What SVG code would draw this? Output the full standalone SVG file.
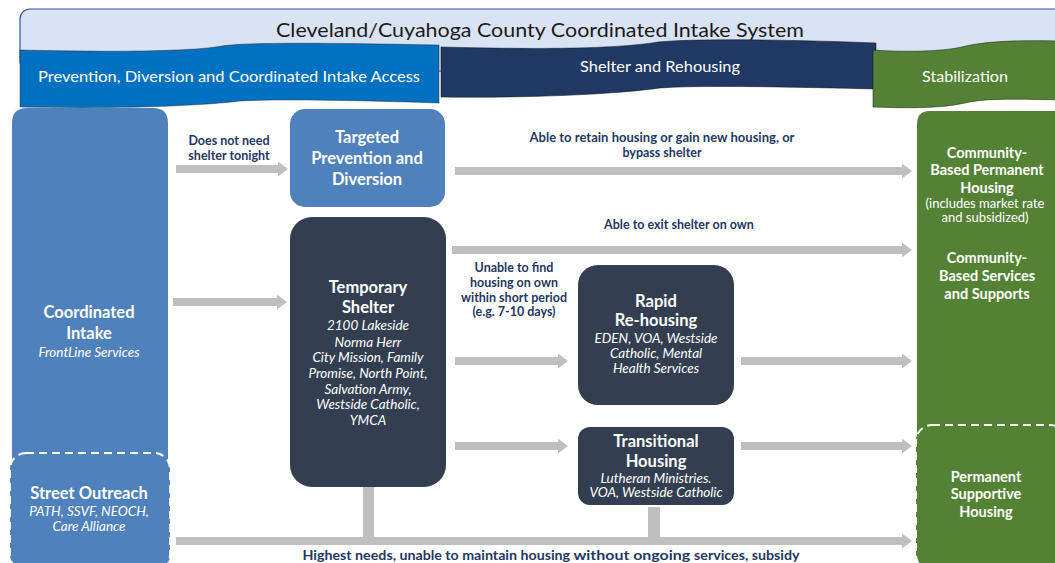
<svg xmlns="http://www.w3.org/2000/svg" width="1055" height="563" viewBox="0 0 1055 563">
<style>
text{font-family:Lato,"Open Sans","Liberation Sans",sans-serif;text-anchor:middle}
.h{font-weight:bold;fill:#fff;font-size:16.5px}
.i{font-style:italic;fill:#fff;font-size:13.5px}
.g{font-weight:bold;fill:#fff;font-size:14.5px}
.s{fill:#fff;font-size:13px}
.lbl{font-weight:bold;fill:#1f3864;font-size:12.5px}
.arr{fill:#bfbfbf}
.band{fill:#fff;font-size:15px}
.dash{stroke:#fff;stroke-width:2;stroke-dasharray:8 5}
</style>
<rect width="1055" height="563" fill="#fff"/>
<g id="banner">
<rect x="20" y="9" width="1050" height="62" rx="10" fill="#dae3f3" stroke="#2f5597" stroke-width="1.2"/>
<text x="540" y="37" font-size="19" fill="#1a1a1a" textLength="528" lengthAdjust="spacingAndGlyphs">Cleveland/Cuyahoga County Coordinated Intake System</text>
</g>
<g id="band-shelter">
<path d="M441,47 C520,49 610,50 658,42 C700,38 800,40 876,43 L876,89 C790,87 700,85 660,88 C610,95 520,98 441,97 Z" fill="#1f3864" stroke="#111" stroke-opacity=".5" stroke-width="1"/>
<text class="band" x="660" y="72" textLength="160" lengthAdjust="spacingAndGlyphs">Shelter and Rehousing</text>
</g>
<g id="band-prevention">
<path d="M20,50 C100,52 190,52 222,46 C250,42 330,43 439,45 L439,103 C350,100 280,99 240,101 C200,106 120,109 20,107 Z" fill="#0070c0" stroke="#111" stroke-opacity=".4" stroke-width="1"/>
<text class="band" x="229" y="82" textLength="382" lengthAdjust="spacingAndGlyphs">Prevention, Diversion and Coordinated Intake Access</text>
</g>
<g id="band-stabilization">
<path d="M873,50 C900,52 940,52 962,47 C985,41 1020,40 1060,41 L1060,100 C1020,99 985,98 965,103 C940,109 900,108 873,107 Z" fill="#548235" stroke="#111" stroke-opacity=".5" stroke-width="1"/>
<text class="band" x="965" y="82" textLength="86" lengthAdjust="spacingAndGlyphs">Stabilization</text>
</g>
<g id="coordinated-intake">
<path d="M12,123 Q12,108 27,108 L153,108 Q168,108 168,123 L168,563 L12,563 Z" fill="#4f81bd"/>
<text class="h" x="89" y="318">Coordinated</text>
<text class="h" x="89" y="339">Intake</text>
<text class="i" x="89" y="357">FrontLine Services</text>
</g>
<g id="street-outreach">
<rect class="dash" x="10" y="453" width="160" height="118" rx="16" fill="#4f81bd"/>
<text class="h" x="89" y="499">Street Outreach</text>
<text class="i" x="89" y="516" font-size="11.5">PATH, SSVF, NEOCH,</text>
<text class="i" x="89" y="531" font-size="11.5">Care Alliance</text>
</g>
<g id="stabilization-column">
<path d="M917,124 Q917,111 930,111 L1060,111 L1060,563 L917,563 Z" fill="#548235"/>
<text class="g" x="987" y="158">Community-</text>
<text class="g" x="987" y="175">Based Permanent</text>
<text class="g" x="987" y="193">Housing</text>
<text class="s" x="985" y="208">(includes market rate</text>
<text class="s" x="985" y="222">and subsidized)</text>
<text class="g" x="987" y="263">Community-</text>
<text class="g" x="987" y="281">Based Services</text>
<text class="g" x="987" y="299">and Supports</text>
</g>
<g id="permanent-supportive-housing">
<rect class="dash" x="916" y="425" width="150" height="146" rx="16" fill="#548235"/>
<text class="g" x="986" y="482">Permanent</text>
<text class="g" x="986" y="499">Supportive</text>
<text class="g" x="986" y="517">Housing</text>
</g>
<g id="targeted-prevention">
<rect x="290" y="109" width="155" height="98" rx="15" fill="#4f81bd"/>
<text class="h" x="367" y="143">Targeted</text>
<text class="h" x="367" y="164">Prevention and</text>
<text class="h" x="367" y="185">Diversion</text>
</g>
<g id="temporary-shelter">
<rect x="290" y="217" width="156" height="270" rx="22" fill="#333f50"/>
<text class="h" x="368" y="293">Temporary</text>
<text class="h" x="368" y="313">Shelter</text>
<text class="i" x="368" y="330">2100 Lakeside</text>
<text class="i" x="368" y="347">Norma Herr</text>
<text class="i" x="368" y="362">City Mission, Family</text>
<text class="i" x="368" y="378">Promise, North Point,</text>
<text class="i" x="368" y="394">Salvation Army,</text>
<text class="i" x="368" y="409">Westside Catholic,</text>
<text class="i" x="368" y="425">YMCA</text>
</g>
<g id="rapid-rehousing">
<rect x="578" y="265" width="156" height="140" rx="20" fill="#333f50"/>
<text class="h" x="656" y="307">Rapid</text>
<text class="h" x="656" y="326">Re-housing</text>
<text class="i" x="656" y="343">EDEN, VOA, Westside</text>
<text class="i" x="656" y="358">Catholic, Mental</text>
<text class="i" x="656" y="373">Health Services</text>
</g>
<g id="transitional-housing">
<rect x="578" y="427" width="156" height="78" rx="12" fill="#333f50"/>
<text class="h" x="656" y="447">Transitional</text>
<text class="h" x="656" y="467">Housing</text>
<text class="i" x="656" y="483" font-size="11.5">Lutheran Ministries.</text>
<text class="i" x="656" y="497" font-size="11.5">VOA, Westside Catholic</text>
</g>
<g id="connectors">
<polygon class="arr" points="176,165 278,165 278,161.5 288,169 278,176.5 278,173 176,173"/>
<polygon class="arr" points="173,298 277,298 277,294.5 287,302 277,309.5 277,306 173,306"/>
<polygon class="arr" points="455,167 902,167 902,163.5 912,171 902,178.5 902,175 455,175"/>
<polygon class="arr" points="452,246 902,246 902,242.5 912,250 902,257.5 902,254 452,254"/>
<polygon class="arr" points="455,357 558,357 558,353.5 568,361 558,368.5 558,365 455,365"/>
<polygon class="arr" points="741,357 902,357 902,353.5 912,361 902,368.5 902,365 741,365"/>
<polygon class="arr" points="455,442 558,442 558,438.5 568,446 558,453.5 558,450 455,450"/>
<polygon class="arr" points="741,442 902,442 902,438.5 912,446 902,453.5 902,450 741,450"/>
<rect class="arr" x="363" y="487" width="11" height="54"/>
<rect class="arr" x="648" y="507" width="12" height="34"/>
<polygon class="arr" points="176,537 902,537 902,533.5 912,541 902,548.5 902,545 176,545"/>
<text class="lbl" x="229" y="145">Does not need</text>
<text class="lbl" x="229" y="160">shelter tonight</text>
<text class="lbl" x="662" y="142" textLength="265" lengthAdjust="spacingAndGlyphs">Able to retain housing or gain new housing, or</text>
<text class="lbl" x="662" y="157">bypass shelter</text>
<text class="lbl" x="679" y="229">Able to exit shelter on own</text>
<text class="lbl" x="514" y="272">Unable to find</text>
<text class="lbl" x="514" y="287">housing on own</text>
<text class="lbl" x="514" y="302">within short period</text>
<text class="lbl" x="514" y="316">(e.g. 7-10 days)</text>
<text class="lbl" x="551" y="560" font-size="16.5" textLength="497" lengthAdjust="spacingAndGlyphs"><tspan>Highest needs, unable to maintain housing </tspan><tspan font-size="14">without ongoing </tspan><tspan>services, subsidy</tspan></text>
</g>
</svg>
